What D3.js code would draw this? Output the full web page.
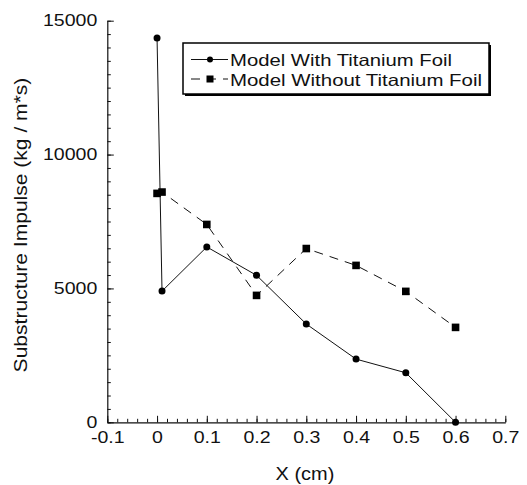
<!DOCTYPE html>
<html>
<head>
<meta charset="utf-8">
<script src="https://cdn.jsdelivr.net/npm/d3@7"></script>
<style>
  body { margin: 0; background: #fff; }
  text { font-family: "Liberation Sans", Arial, sans-serif; fill: #111; }
</style>
</head>
<body>
<script>
// chart data
const xTicks = [-0.1, 0, 0.1, 0.2, 0.3, 0.4, 0.5, 0.6, 0.7];
const yTicks = [0, 5000, 10000, 15000];
const xWith = [0, 0.01, 0.1, 0.2, 0.3, 0.4, 0.5, 0.6];
const yWith = [14350, 4900, 6550, 5490, 3670, 2360, 1850, 0];
const xWithout = [0, 0.01, 0.1, 0.2, 0.3, 0.4, 0.5, 0.6];
const yWithout = [8550, 8600, 7390, 4740, 6490, 5860, 4890, 3545];
const seriesNames = ["Model With Titanium Foil", "Model Without Titanium Foil"];

const W = 527, H = 485;
const svg = d3.select("body").append("svg")
    .attr("width", W)
    .attr("height", H);

// scales
const x = d3.scaleLinear().domain([-0.1, 0.7]).range([107.3, 505.3]);
const y = d3.scaleLinear().domain([0, 15000]).range([422.3, 20.7]);

// text in the original is a bit wider than Helvetica
const stretch = 1.15;

// minor ticks (inward)
svg.append("g")
    .attr("transform", "translate(0," + y(0) + ")")
    .call(d3.axisBottom(x).tickValues(d3.range(-0.1, 0.7001, 0.02)).tickSize(-3.5).tickFormat(""))
    .call(g => g.select(".domain").remove());
svg.append("g")
    .attr("transform", "translate(" + x(-0.1) + ",0)")
    .call(d3.axisLeft(y).tickValues(d3.range(0, 15001, 500)).tickSize(-3.5).tickFormat(""))
    .call(g => g.select(".domain").remove());

// major ticks + labels
const xAxis = svg.append("g")
    .attr("transform", "translate(0," + y(0) + ")")
    .call(d3.axisBottom(x).tickValues(xTicks).tickSizeInner(-6.5).tickSizeOuter(0).tickFormat(d => String(d)));
const yAxis = svg.append("g")
    .attr("transform", "translate(" + x(-0.1) + ",0)")
    .call(d3.axisLeft(y).tickValues(yTicks).tickSizeInner(-6.5).tickSizeOuter(0).tickFormat(d => String(d)));

svg.selectAll(".domain").attr("stroke", "#111").attr("stroke-width", 1.2);
svg.selectAll(".tick line").attr("stroke", "#111");

xAxis.selectAll("text")
    .attr("font-size", 17)
    .attr("y", null).attr("dy", null)
    .attr("transform", "translate(0,21) scale(" + stretch + ",1)");
yAxis.selectAll("text")
    .attr("font-size", 17)
    .attr("x", null).attr("dy", "0.35em")
    .attr("transform", "translate(-10,-1) scale(" + stretch + ",1)");

// axis titles
svg.append("text")
    .attr("transform", "translate(305,480) scale(1.11,1)")
    .attr("text-anchor", "middle")
    .attr("font-size", 18)
    .text("X (cm)");
svg.append("text")
    .attr("transform", "translate(26.5,225) rotate(-90) scale(1.17,1)")
    .attr("text-anchor", "middle")
    .attr("font-size", 18)
    .text("Substructure Impulse (kg / m*s)");

// series lines
const line = d3.line().x(d => x(d[0])).y(d => y(d[1]));
const withPts = xWith.map((v, i) => [v, yWith[i]]);
const withoutPts = xWithout.map((v, i) => [v, yWithout[i]]);

svg.append("path")
    .datum(withoutPts)
    .attr("d", line)
    .attr("fill", "none")
    .attr("stroke", "#111")
    .attr("stroke-width", 1)
    .attr("stroke-dasharray", "9,7");
svg.append("path")
    .datum(withPts)
    .attr("d", line)
    .attr("fill", "none")
    .attr("stroke", "#111")
    .attr("stroke-width", 1);

// markers
svg.selectAll(".sq")
    .data(withoutPts)
    .enter().append("rect")
    .attr("x", d => x(d[0]) - 3.8)
    .attr("y", d => y(d[1]) - 3.8)
    .attr("width", 7.6)
    .attr("height", 7.6)
    .attr("fill", "#000");
svg.selectAll(".dot")
    .data(withPts)
    .enter().append("circle")
    .attr("cx", d => x(d[0]))
    .attr("cy", d => y(d[1]))
    .attr("r", 3.5)
    .attr("fill", "#000");

// legend
const lg = svg.append("g");
lg.append("rect").attr("x", 185).attr("y", 45).attr("width", 306).attr("height", 51).attr("fill", "#000");
lg.append("rect").attr("x", 183).attr("y", 43).attr("width", 306).attr("height", 51)
    .attr("fill", "#fff").attr("stroke", "#000").attr("stroke-width", 1.5);

lg.append("line").attr("x1", 191).attr("x2", 228).attr("y1", 59.5).attr("y2", 59.5).attr("stroke", "#111");
lg.append("circle").attr("cx", 210).attr("cy", 59.5).attr("r", 3).attr("fill", "#000");
lg.append("line").attr("x1", 191).attr("x2", 228).attr("y1", 79).attr("y2", 79)
    .attr("stroke", "#111").attr("stroke-dasharray", "9,7");
lg.append("rect").attr("x", 206.5).attr("y", 75.5).attr("width", 7).attr("height", 7).attr("fill", "#000");

lg.append("text").attr("x", 230).attr("y", 65.5).attr("font-size", 16.5)
    .attr("textLength", 222).attr("lengthAdjust", "spacingAndGlyphs").text(seriesNames[0]);
lg.append("text").attr("x", 230).attr("y", 85.5).attr("font-size", 16.5)
    .attr("textLength", 252).attr("lengthAdjust", "spacingAndGlyphs").text(seriesNames[1]);
</script>
</body>
</html>
